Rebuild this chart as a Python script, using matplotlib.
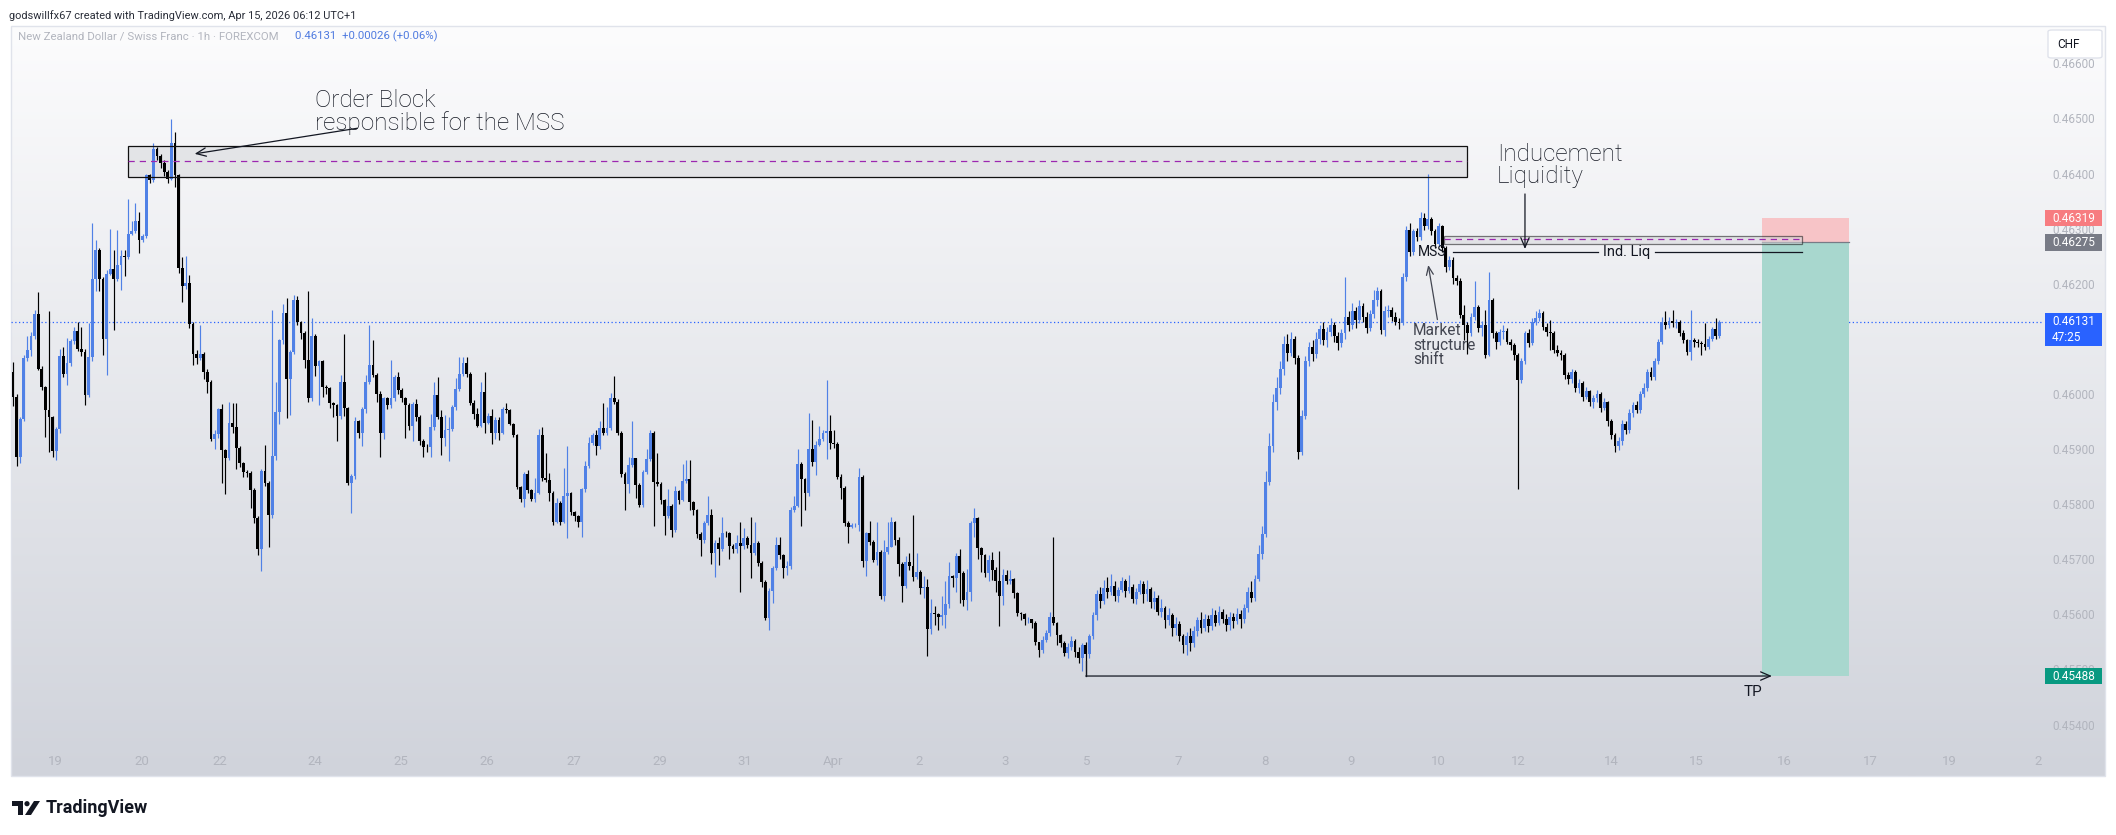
import numpy as np
import matplotlib
matplotlib.use("Agg")
import matplotlib.pyplot as plt
from matplotlib.patches import Rectangle, FancyBboxPatch, Polygon, Circle
from matplotlib.colors import LinearSegmentedColormap
from matplotlib.transforms import blended_transform_factory

plt.rcParams['font.family'] = ['Roboto', 'DejaVu Sans']

# ── Podaci (cijene u bodovima od 0.45000, 1 bod = 0.00001) ─────────────────
BASE = 0.45
PT = 1e-5
FIRST_OPEN = 1039

CLOSE = [
    994, 886, 954, 1066, 1080, 1106, 1145, 1046, 1013, 971,
    958, 897, 937, 1068, 1036, 1057, 1096, 1115, 1081, 1077,
    998, 1067, 1208, 1262, 1208, 1100, 1218, 1226, 1208, 1234,
    1250, 1249, 1291, 1296, 1314, 1279, 1286, 1397, 1388, 1444,
    1431, 1420, 1403, 1391, 1455, 1397, 1228, 1196, 1202, 1127,
    1072, 1065, 1072, 1040, 1022, 919, 928, 972, 899, 883,
    947, 940, 901, 874, 859, 857, 826, 774, 718, 861,
    838, 780, 888, 968, 1098, 1146, 1027, 1077, 1171, 1131,
    1110, 1062, 992, 1105, 1050, 1059, 1012, 1010, 984, 980,
    960, 1021, 974, 838, 851, 950, 929, 972, 1021, 1053,
    1035, 1000, 929, 992, 980, 992, 1031, 1008, 992, 980,
    942, 982, 959, 915, 904, 903, 940, 998, 959, 920,
    935, 936, 976, 1009, 1036, 1056, 1036, 984, 964, 942,
    1004, 948, 960, 930, 953, 930, 972, 970, 946, 926,
    831, 810, 855, 825, 810, 820, 926, 847, 844, 821,
    767, 802, 768, 814, 820, 785, 779, 768, 827, 869,
    911, 926, 905, 938, 929, 938, 992, 986, 929, 855,
    837, 871, 883, 835, 799, 859, 882, 930, 841, 837,
    808, 778, 796, 753, 824, 808, 842, 846, 803, 790,
    746, 735, 765, 781, 711, 730, 718, 748, 747, 724,
    718, 729, 724, 739, 726, 712, 730, 694, 658, 593,
    643, 684, 726, 708, 684, 687, 790, 797, 873, 845,
    820, 900, 877, 908, 918, 930, 932, 911, 910, 849,
    829, 765, 759, 762, 763, 849, 696, 748, 732, 699,
    714, 634, 714, 722, 768, 735, 692, 652, 695, 688,
    667, 677, 647, 650, 573, 602, 601, 596, 599, 619,
    670, 666, 706, 675, 626, 640, 765, 774, 720, 708,
    675, 699, 680, 660, 634, 672, 660, 664, 638, 602,
    601, 591, 591, 584, 549, 536, 554, 567, 596, 584,
    563, 548, 530, 541, 552, 531, 520, 545, 528, 560,
    598, 636, 625, 648, 640, 652, 633, 645, 660, 642,
    650, 628, 640, 655, 637, 646, 622, 630, 605, 612,
    590, 598, 575, 582, 560, 545, 560, 548, 570, 590,
    575, 592, 578, 598, 585, 604, 592, 580, 596, 588,
    600, 592, 612, 640, 630, 665, 710, 745, 840, 905,
    985, 1010, 1045, 1090, 1075, 1100, 1065, 895, 960, 1060,
    1085, 1072, 1100, 1118, 1098, 1112, 1125, 1105, 1092, 1110,
    1140, 1125, 1150, 1135, 1160, 1140, 1120, 1145, 1170, 1186,
    1116, 1151, 1152, 1140, 1131, 1128, 1213, 1298, 1258, 1295,
    1285, 1319, 1305, 1318, 1295, 1272, 1304, 1264, 1231, 1243,
    1210, 1205, 1143, 1125, 1110, 1140, 1158, 1120, 1126, 1071,
    1171, 1110, 1095, 1113, 1115, 1095, 1088, 1070, 1026, 1060,
    1110, 1092, 1131, 1138, 1146, 1122, 1113, 1110, 1080, 1075,
    1071, 1035, 1028, 1040, 1010, 1020, 995, 1005, 985, 992,
    1000, 975, 985, 950, 925, 905, 915, 945, 935, 965,
    980, 970, 1000, 1010, 1040, 1030, 1060, 1095, 1131, 1125,
    1132, 1128, 1130, 1110, 1098, 1077, 1098, 1095, 1092, 1090,
    1085, 1100, 1118, 1105, 1131,
]

HIGH = [
    1058, 1000, 958, 1070, 1105, 1113, 1152, 1185, 1050, 1015,
    1150, 960, 940, 1081, 1086, 1101, 1100, 1122, 1130, 1122,
    1082, 1128, 1310, 1280, 1265, 1212, 1225, 1300, 1262, 1298,
    1262, 1262, 1353, 1313, 1346, 1331, 1290, 1400, 1400, 1455,
    1449, 1436, 1424, 1406, 1499, 1476, 1400, 1248, 1250, 1216,
    1130, 1080, 1125, 1076, 1046, 1025, 934, 975, 982, 900,
    985, 984, 983, 905, 876, 862, 860, 830, 778, 864,
    907, 842, 1152, 1022, 1100, 1163, 1175, 1080, 1180, 1178,
    1133, 1115, 1187, 1137, 1108, 1062, 1062, 1016, 1012, 986,
    981, 1035, 1109, 976, 855, 959, 952, 976, 1035, 1125,
    1098, 1038, 1005, 995, 995, 1062, 1035, 1040, 1010, 995,
    983, 986, 990, 962, 918, 910, 964, 1021, 1030, 970,
    962, 959, 980, 1029, 1067, 1067, 1067, 1040, 989, 974,
    1022, 1040, 965, 972, 958, 958, 976, 983, 972, 948,
    928, 832, 858, 862, 828, 847, 936, 940, 892, 856,
    824, 811, 806, 865, 906, 822, 787, 781, 830, 879,
    921, 930, 935, 950, 983, 977, 1001, 1032, 990, 932,
    858, 886, 950, 884, 838, 862, 900, 935, 932, 893,
    840, 810, 827, 800, 832, 826, 873, 880, 880, 806,
    792, 750, 770, 814, 791, 735, 741, 777, 752, 750,
    727, 744, 767, 756, 742, 776, 768, 733, 697, 662,
    648, 687, 740, 740, 710, 697, 795, 815, 900, 876,
    848, 965, 953, 915, 942, 935, 1025, 962, 935, 912,
    855, 832, 770, 766, 765, 866, 852, 750, 770, 735,
    768, 716, 735, 768, 777, 770, 740, 695, 705, 712,
    780, 712, 680, 670, 665, 628, 615, 603, 633, 660,
    695, 672, 712, 718, 678, 682, 770, 793, 776, 722,
    710, 708, 713, 685, 715, 682, 680, 680, 666, 640,
    605, 603, 596, 592, 588, 550, 560, 572, 605, 740,
    586, 565, 552, 548, 560, 556, 540, 548, 550, 565,
    605, 645, 650, 662, 668, 674, 660, 650, 668, 665,
    672, 655, 648, 663, 660, 662, 650, 642, 635, 628,
    615, 612, 602, 595, 588, 565, 568, 575, 578, 596,
    605, 600, 598, 612, 608, 615, 610, 600, 605, 602,
    612, 608, 618, 650, 660, 672, 725, 760, 860, 930,
    1000, 1030, 1060, 1105, 1108, 1112, 1105, 1070, 970, 1068,
    1095, 1098, 1112, 1125, 1130, 1122, 1138, 1130, 1112, 1118,
    1213, 1150, 1165, 1158, 1170, 1165, 1148, 1152, 1188, 1195,
    1190, 1160, 1162, 1158, 1148, 1138, 1220, 1305, 1310, 1300,
    1302, 1330, 1328, 1400, 1322, 1300, 1310, 1306, 1268, 1250,
    1248, 1215, 1210, 1162, 1130, 1146, 1205, 1162, 1132, 1152,
    1222, 1175, 1115, 1118, 1125, 1120, 1100, 1092, 1075, 1066,
    1115, 1118, 1138, 1150, 1155, 1150, 1128, 1135, 1115, 1088,
    1080, 1074, 1040, 1046, 1044, 1028, 1024, 1012, 1008, 998,
    1008, 1004, 992, 988, 955, 930, 922, 952, 950, 972,
    985, 988, 1006, 1020, 1045, 1048, 1066, 1100, 1140, 1150,
    1140, 1152, 1136, 1134, 1116, 1100, 1152, 1102, 1100, 1096,
    1128, 1106, 1122, 1138, 1134,
]

LOW = [
    979, 869, 875, 950, 1060, 1069, 1100, 1043, 1008, 922,
    895, 886, 880, 930, 1030, 1016, 1050, 1090, 1078, 1068,
    980, 995, 1060, 1186, 1186, 1071, 1035, 1215, 1116, 1205,
    1189, 1214, 1245, 1288, 1292, 1256, 1275, 1283, 1382, 1385,
    1425, 1410, 1395, 1382, 1388, 1376, 1220, 1166, 1190, 1120,
    1053, 1055, 1062, 1028, 1002, 914, 900, 920, 838, 818,
    880, 930, 863, 868, 850, 850, 793, 765, 708, 678,
    832, 722, 775, 880, 946, 1090, 957, 962, 1072, 1125,
    1100, 1047, 985, 988, 1032, 980, 995, 1000, 974, 959,
    915, 955, 960, 835, 783, 845, 920, 905, 965, 1018,
    1030, 985, 886, 918, 972, 975, 988, 1000, 985, 920,
    935, 915, 950, 908, 886, 895, 886, 935, 955, 889,
    906, 879, 932, 970, 1005, 1033, 1030, 980, 954, 940,
    940, 930, 945, 910, 918, 917, 928, 966, 943, 922,
    828, 803, 794, 820, 806, 803, 818, 842, 840, 805,
    762, 765, 763, 765, 738, 780, 770, 758, 741, 822,
    866, 908, 889, 900, 925, 926, 935, 982, 925, 850,
    790, 820, 868, 811, 795, 795, 855, 878, 760, 832,
    800, 744, 775, 740, 750, 800, 805, 838, 790, 780,
    738, 705, 730, 762, 692, 667, 690, 715, 740, 700,
    712, 712, 641, 718, 720, 666, 708, 688, 650, 590,
    571, 620, 680, 700, 666, 672, 682, 785, 795, 760,
    790, 815, 870, 853, 905, 915, 882, 900, 902, 845,
    810, 760, 730, 756, 758, 752, 685, 670, 725, 695,
    690, 628, 625, 710, 740, 725, 670, 622, 648, 680,
    660, 665, 637, 630, 524, 565, 580, 572, 580, 575,
    612, 650, 640, 620, 615, 608, 625, 740, 700, 676,
    667, 660, 663, 640, 578, 617, 655, 655, 630, 597,
    590, 580, 585, 575, 545, 522, 530, 550, 560, 580,
    545, 540, 525, 520, 535, 522, 512, 498, 488, 520,
    555, 590, 612, 618, 630, 635, 625, 622, 640, 632,
    638, 620, 618, 636, 620, 625, 612, 610, 598, 596,
    575, 580, 560, 562, 552, 530, 527, 534, 540, 560,
    566, 570, 568, 572, 578, 580, 584, 570, 572, 575,
    582, 575, 585, 605, 622, 625, 660, 700, 740, 835,
    895, 970, 1000, 1035, 1060, 1068, 1055, 882, 890, 955,
    1050, 1060, 1065, 1090, 1088, 1085, 1105, 1095, 1080, 1085,
    1100, 1115, 1118, 1120, 1128, 1130, 1110, 1115, 1138, 1160,
    1108, 1105, 1140, 1132, 1125, 1118, 1125, 1205, 1250, 1252,
    1278, 1280, 1298, 1300, 1288, 1265, 1268, 1258, 1222, 1225,
    1200, 1198, 1138, 1098, 1072, 1105, 1135, 1112, 1105, 1066,
    1068, 1102, 1082, 1088, 1100, 1090, 1080, 1062, 828, 1020,
    1055, 1086, 1088, 1125, 1132, 1116, 1106, 1080, 1075, 1068,
    1062, 1028, 1018, 1020, 1004, 1002, 988, 990, 978, 975,
    985, 968, 970, 942, 918, 895, 898, 908, 928, 930,
    958, 965, 966, 995, 1005, 1025, 1026, 1055, 1090, 1118,
    1120, 1122, 1120, 1105, 1092, 1070, 1062, 1085, 1086, 1070,
    1080, 1082, 1096, 1100, 1102,
]

DAY_LABELS = ["19", "20", "22", "24", "25", "26", "27", "29", "31", "Apr",
              "2", "3", "5", "7", "8", "9", "10", "12", "14", "15",
              "16", "17", "19", "2"]
DAY_POS = [11.8, 35.8, 57.5, 83.8, 107.7, 131.7, 155.7, 179.7, 203.3, 227.7,
           251.7, 275.7, 298.2, 323.7, 347.7, 371.7, 396.0, 418.2, 444.0, 467.6,
           492.0, 516.0, 538.0, 562.5]

# 0.46100 je skriven ispod oznake zadnje cijene pa se ne crta
PRICE_TICKS = [0.454, 0.455, 0.456, 0.457, 0.458, 0.459, 0.460,
               0.462, 0.463, 0.464, 0.465, 0.466]

# Razine crteža (bodovi)
OB_TOP, OB_BOT, OB_MID = 1450, 1394, 1423
IND_TOP, IND_BOT, IND_MID = 1287, 1273, 1281
IND_LIQ = 1258
ENTRY, STOP, TARGET = 1275, 1319, 488
LAST = 1131

UP = "#5081e6"
DOWN = "#000000"


def pr(points):
    return BASE + points * PT


# ── Figura ─────────────────────────────────────────────────────────────────
W, H = 2116, 835
fig = plt.figure(figsize=(W / 100, H / 100), dpi=100)
fig.patch.set_facecolor("white")


def fx(px):
    return px / W


def fy(py):
    return 1 - py / H


# Pozadina panela s gradijentom
bg = fig.add_axes([fx(11), fy(776), fx(2105) - fx(11), fy(26) - fy(776)], zorder=0)
grad = np.linspace(0, 1, 256).reshape(-1, 1)
bg.imshow(grad, aspect="auto", origin="upper", extent=[0, 1, 0, 1],
          cmap=LinearSegmentedColormap.from_list("tv", ["#fcfcfd", "#d0d3db"]))
bg.axis("off")
fig.patches.append(Rectangle((fx(11), fy(776)), fx(2105) - fx(11), fy(26) - fy(776),
                             transform=fig.transFigure, fill=False,
                             ec="#e0e3eb", lw=1, zorder=1))

ax = fig.add_axes([fx(11), fy(746), fx(2043) - fx(11), fy(27) - fy(746)], zorder=2)
ax.set_facecolor("none")
for s in ax.spines.values():
    s.set_visible(False)
ax.set_xlim(-0.56, 563.9)
ax.set_ylim(0.45361, 0.46666)

# ── Svijeće ────────────────────────────────────────────────────────────────
c = pr(np.array(CLOSE, dtype=float))
o = np.concatenate([[pr(FIRST_OPEN)], c[:-1]])
h = np.maximum(pr(np.array(HIGH, dtype=float)), np.maximum(o, c))
l = np.minimum(pr(np.array(LOW, dtype=float)), np.minimum(o, c))
x = np.arange(len(c))
col = np.where(c >= o, UP, DOWN)

ax.vlines(x, l, h, colors=col, lw=0.85, zorder=4)
ax.bar(x, np.maximum(np.abs(c - o), 0.25 * PT), bottom=np.minimum(o, c),
       width=0.8, color=col, lw=0, zorder=4)

# Linija zadnje cijene
ax.axhline(pr(LAST), color="#2962ff", lw=0.9, ls=(0, (1, 2)), zorder=3)

# ── Order block ────────────────────────────────────────────────────────────
ax.add_patch(Rectangle((31.9, pr(OB_BOT)), 404.0 - 31.9, pr(OB_TOP) - pr(OB_BOT),
                       fc="#d6d7da", alpha=0.55, ec="none", zorder=3))
ax.add_patch(Rectangle((31.9, pr(OB_BOT)), 404.0 - 31.9, pr(OB_TOP) - pr(OB_BOT),
                       fill=False, ec="#111111", lw=0.9, zorder=5))
ax.plot([31.9, 404.0], [pr(OB_MID)] * 2, color="#9c27b0", lw=0.9,
        dashes=(5, 4), zorder=5)
ax.text(83.9, pr(1470), "Order Block\nresponsible for the MSS", fontsize=17.5,
        fontweight="light", color="#131722", ha="left", va="bottom",
        linespacing=0.95, zorder=6)
ax.annotate("", xy=(49.7, pr(1435)), xytext=(96.4, pr(1483)),
            arrowprops=dict(arrowstyle="->,head_length=0.7,head_width=0.3",
                            color="#131722", lw=0.9), zorder=6)

# ── Inducement zona ────────────────────────────────────────────────────────
ax.add_patch(Rectangle((397.5, pr(IND_BOT)), 497.0 - 397.5, pr(IND_TOP) - pr(IND_BOT),
                       fc="#d6d7da", alpha=0.55, ec="#111111", lw=0.9, zorder=5))
ax.plot([397.5, 497.0], [pr(IND_MID)] * 2, color="#9c27b0", lw=0.9,
        dashes=(5, 4), zorder=5)
ax.text(412.2, pr(1373), "Inducement\nLiquidity", fontsize=17.5, fontweight="light",
        color="#131722", ha="left", va="bottom", linespacing=0.95, zorder=6)
ax.annotate("", xy=(420.0, pr(IND_LIQ)), xytext=(420.0, pr(1368)),
            arrowprops=dict(arrowstyle="->,head_length=0.7,head_width=0.3",
                            color="#131722", lw=0.9), zorder=6)

ax.plot([400.0, 440.3], [pr(IND_LIQ)] * 2, color="#131722", lw=0.9, zorder=5)
ax.plot([456.1, 497.0], [pr(IND_LIQ)] * 2, color="#131722", lw=0.9, zorder=5)
ax.text(448.3, pr(IND_LIQ), "Ind. Liq", fontsize=10.5, color="#131722",
        ha="center", va="center", zorder=6)

# MSS
ax.text(394.2, pr(IND_LIQ), "MSS", fontsize=10, color="#131722",
        ha="center", va="center", zorder=6)
ax.text(388.9, pr(1128), "Market\nstructure\nshift", fontsize=11.2,
        color="#434651", ha="left", va="top", linespacing=0.95, zorder=6)
ax.annotate("", xy=(393.0, pr(1239)), xytext=(395.8, pr(1130)),
            arrowprops=dict(arrowstyle="->,head_length=0.6,head_width=0.25",
                            color="#434651", lw=0.9), zorder=6)

# ── Short pozicija ─────────────────────────────────────────────────────────
ax.add_patch(Rectangle((485.8, pr(ENTRY)), 510.0 - 485.8, pr(STOP) - pr(ENTRY),
                       fc="#f7c4c7", ec="none", zorder=3))
ax.add_patch(Rectangle((485.8, pr(TARGET)), 510.0 - 485.8, pr(ENTRY) - pr(TARGET),
                       fc="#a8d7ce", ec="none", zorder=3))
ax.plot([485.8, 510.0], [pr(ENTRY)] * 2, color="#787b86", lw=0.9, zorder=3)

# TP linija
ax.plot([298.0, 298.0], [pr(515), pr(TARGET)], color="#131722", lw=0.9, zorder=5)
ax.annotate("", xy=(488.6, pr(TARGET)), xytext=(298.0, pr(TARGET)),
            arrowprops=dict(arrowstyle="->,head_length=0.7,head_width=0.3",
                            color="#131722", lw=0.9, shrinkA=0, shrinkB=0), zorder=6)
ax.text(483.3, pr(459), "TP", fontsize=11, color="#131722",
        ha="center", va="center", zorder=6)

# ── Osi ────────────────────────────────────────────────────────────────────
ax.set_xticks([])
ax.yaxis.tick_right()
ax.set_yticks(PRICE_TICKS)
ax.set_yticklabels([f"{t:.5f}" for t in PRICE_TICKS])
ax.tick_params(axis="y", length=0, pad=7, labelsize=8.5, labelcolor="#b2b5be")

xt = blended_transform_factory(ax.transData, ax.transAxes)
for lbl, pos in zip(DAY_LABELS, DAY_POS):
    ax.text(pos, -0.0222, lbl, transform=xt, fontsize=9.5, color="#b2b5be",
            ha="center", va="center", clip_on=False)

# Oznake cijena na desnoj osi
yt = blended_transform_factory(ax.transAxes, ax.transData)
lab_x0 = (2045 - 11) / 2032
lab_w = (2102 - 2045) / 2032
txt_x = (2052 - 11) / 2032
for val, color in [(STOP, "#f77c80"), (ENTRY, "#787b86"), (TARGET, "#089981")]:
    ax.add_patch(Rectangle((lab_x0, pr(val) - 0.00015), lab_w, 0.0003,
                           transform=yt, fc=color, ec="none", zorder=7, clip_on=False))
    ax.text(txt_x, pr(val), f"{pr(val):.5f}", transform=yt, fontsize=8.5,
            color="white", ha="left", va="center", zorder=8, clip_on=False)
ax.add_patch(Rectangle((lab_x0, pr(LAST) - 0.00044), lab_w, 0.00059,
                       transform=yt, fc="#2962ff", ec="none", zorder=7, clip_on=False))
ax.text(txt_x, pr(LAST), f"{pr(LAST):.5f}", transform=yt, fontsize=8.5,
        color="white", ha="left", va="center", zorder=8, clip_on=False)
ax.text(txt_x, pr(LAST) - 0.00028, "47:25", transform=yt, fontsize=8.5,
        color="white", ha="left", va="center", zorder=8, clip_on=False)

# CHF gumb
fig.patches.append(FancyBboxPatch((fx(2048), fy(58)), fx(2102) - fx(2048), fy(30) - fy(58),
                                  boxstyle="round,pad=0,rounding_size=0.002",
                                  transform=fig.transFigure, fc="white",
                                  ec="#e0e3eb", lw=1, zorder=5))
fig.text(fx(2069), fy(44), "CHF", fontsize=8.5, color="#131722",
         ha="center", va="center", zorder=6)

# ── Zaglavlje i podnožje ───────────────────────────────────────────────────
fig.text(fx(9), fy(16), "godswillfx67 created with TradingView.com, Apr 15, 2026 06:12 UTC+1",
         fontsize=7.9, color="#2a2e39", va="center")
fig.text(fx(18), fy(36), "New Zealand Dollar / Swiss Franc · 1h · FOREXCOM",
         fontsize=8.2, color="#b2b5be", va="center", zorder=6)
fig.text(fx(295), fy(36), "0.46131  +0.00026 (+0.06%)",
         fontsize=8.2, color="#4f7be0", va="center", zorder=6)

logo = fig.add_axes([fx(12), fy(815), fx(40) - fx(12), fy(801) - fy(815)])
logo.set_xlim(0, 28)
logo.set_ylim(0, 14)
logo.axis("off")
logo.add_patch(Rectangle((0, 9), 11, 5, fc="#131722", ec="none"))
logo.add_patch(Rectangle((5.5, 0), 5.5, 14, fc="#131722", ec="none"))
logo.add_patch(Circle((15, 11.3), 2.6, fc="#131722", ec="none"))
logo.add_patch(Polygon([(13, 0), (19, 0), (28, 14), (22, 14)], fc="#131722", ec="none"))
fig.text(fx(46), fy(808), "TradingView", fontsize=13, fontweight="bold",
         color="#131722", va="center")

fig.savefig("out.png", dpi=100, facecolor="white")
